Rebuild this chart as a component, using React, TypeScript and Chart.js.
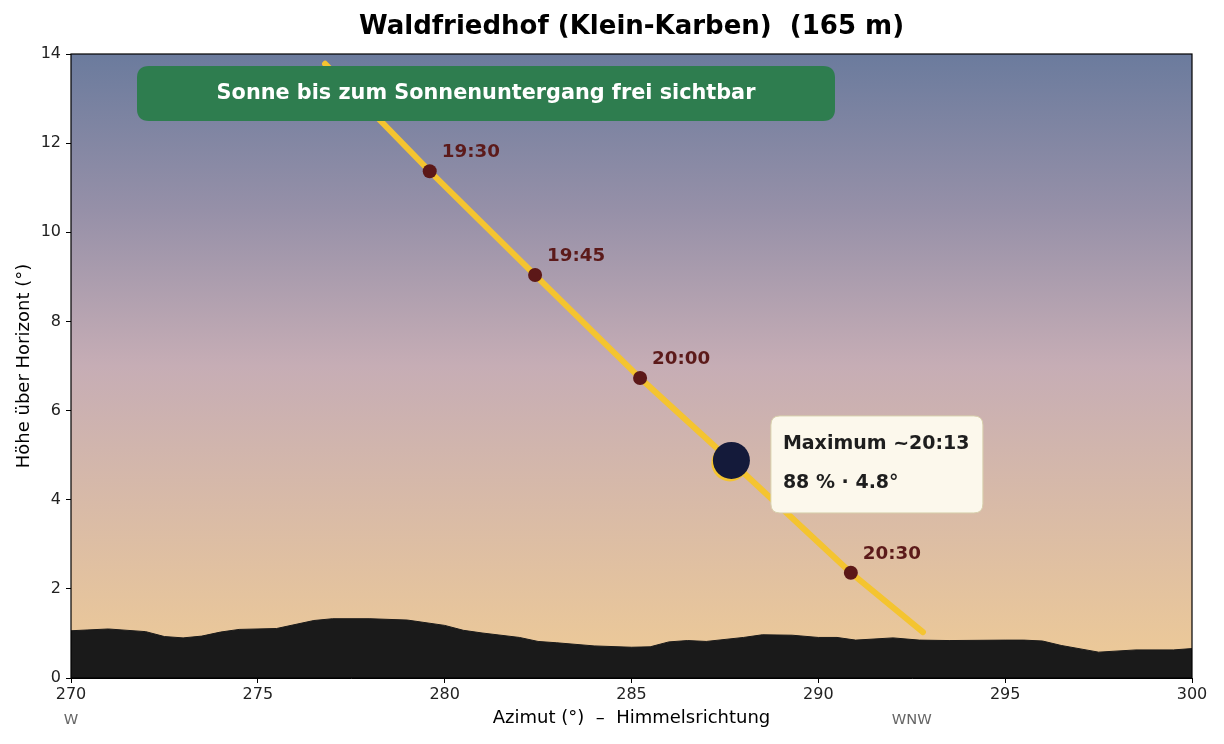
import React, { useEffect, useRef } from "react";
import { Chart, registerables } from "chart.js";

Chart.register(...registerables);

const TITLE = "Waldfriedhof (Klein-Karben)  (165 m)";
const BANNER = "Sonne bis zum Sonnenuntergang frei sichtbar";
const X_TITLE = "Azimut (°)  –  Himmelsrichtung";
const Y_TITLE = "Höhe über Horizont (°)";

const horizonAz = [270, 271, 272, 272.5, 273, 273.5, 274, 274.5, 275.5, 276.5, 277, 278, 279, 280, 280.5, 281, 282, 282.5, 283, 284, 285, 285.5, 286, 286.5, 287, 288, 288.5, 289.3, 290, 290.5, 291, 292, 292.7, 293.5, 295, 295.5, 296, 296.5, 297.5, 298.5, 299.5, 300];
const horizonAlt = [1.06, 1.1, 1.04, 0.93, 0.9, 0.94, 1.03, 1.09, 1.11, 1.29, 1.33, 1.33, 1.3, 1.18, 1.07, 1.01, 0.91, 0.82, 0.79, 0.72, 0.69, 0.7, 0.81, 0.84, 0.82, 0.91, 0.97, 0.96, 0.91, 0.91, 0.85, 0.9, 0.85, 0.84, 0.85, 0.85, 0.83, 0.73, 0.58, 0.63, 0.63, 0.66];

const pathAz = [276.8, 279.6, 282.42, 285.23, 287.66, 290.87, 292.8];
const pathAlt = [13.78, 11.37, 9.04, 6.73, 4.87, 2.36, 1.03];

const timeLabels = ["19:30", "19:45", "20:00", "20:30"];
const timeAz = [279.6, 282.42, 285.23, 290.87];
const timeAlt = [11.37, 9.04, 6.73, 2.36];

const maxAz = 287.66;
const maxAlt = 4.87;
const maxLine1 = "Maximum ~20:13";
const maxLine2 = "88 % · 4.8°";

const dirLabels = ["W", "WNW"];
const dirAz = [270, 292.5];

const xTicks = [270, 275, 280, 285, 290, 295, 300];
const yTicks = [0, 2, 4, 6, 8, 10, 12, 14];

const FONT = "'DejaVu Sans', sans-serif";

function roundRect(ctx: CanvasRenderingContext2D, x: number, y: number, w: number, h: number, r: number) {
  ctx.beginPath();
  ctx.moveTo(x + r, y);
  ctx.lineTo(x + w - r, y);
  ctx.quadraticCurveTo(x + w, y, x + w, y + r);
  ctx.lineTo(x + w, y + h - r);
  ctx.quadraticCurveTo(x + w, y + h, x + w - r, y + h);
  ctx.lineTo(x + r, y + h);
  ctx.quadraticCurveTo(x, y + h, x, y + h - r);
  ctx.lineTo(x, y + r);
  ctx.quadraticCurveTo(x, y, x + r, y);
  ctx.closePath();
}

const decorPlugin = {
  id: "decor",
  beforeDatasetsDraw(chart: any) {
    const { ctx, chartArea: a } = chart;
    ctx.save();
    const g = ctx.createLinearGradient(0, a.top, 0, a.bottom);
    g.addColorStop(0, "#6b7b9d");
    g.addColorStop(0.25, "#9690a8");
    g.addColorStop(0.5, "#c6adb5");
    g.addColorStop(1, "#efcb96");
    ctx.fillStyle = g;
    ctx.fillRect(a.left, a.top, a.right - a.left, a.bottom - a.top);
    ctx.restore();
  },
  afterDatasetsDraw(chart: any) {
    const { ctx, chartArea: a, scales } = chart;
    const xs = scales.x;
    const ys = scales.y;
    ctx.save();
    // time labels
    ctx.font = `bold 18.3px ${FONT}`;
    ctx.fillStyle = "#5c1a1a";
    ctx.textAlign = "left";
    ctx.textBaseline = "alphabetic";
    timeLabels.forEach((t, i) => {
      const px = xs.getPixelForValue(timeAz[i]);
      const py = ys.getPixelForValue(timeAlt[i]);
      ctx.fillText(t, px + 12, py - 14);
    });
    // eclipse marker
    const mx = xs.getPixelForValue(maxAz);
    const my = ys.getPixelForValue(maxAlt);
    ctx.beginPath();
    ctx.arc(mx - 1, my + 2, 18.5, 0, Math.PI * 2);
    ctx.fillStyle = "#f4c430";
    ctx.fill();
    ctx.beginPath();
    ctx.arc(mx + 0.5, my - 0.5, 18.5, 0, Math.PI * 2);
    ctx.fillStyle = "#141a3a";
    ctx.fill();
    // annotation box
    const bx = mx + 40, by = my - 45, bw = 212, bh = 97;
    roundRect(ctx, bx, by, bw, bh, 9);
    ctx.fillStyle = "#fcf8ec";
    ctx.fill();
    ctx.strokeStyle = "#d8d0ac";
    ctx.lineWidth = 1;
    ctx.stroke();
    ctx.fillStyle = "#1e1e1e";
    ctx.font = `bold 19px ${FONT}`;
    ctx.textBaseline = "middle";
    ctx.fillText(maxLine1, bx + 12, by + 28);
    ctx.fillText(maxLine2, bx + 12, by + 67);
    // banner
    const gx = a.left + 66, gy = a.top + 12, gw = 698, gh = 55;
    roundRect(ctx, gx, gy, gw, gh, 12);
    ctx.fillStyle = "#2e7d4f";
    ctx.fill();
    ctx.fillStyle = "#ffffff";
    ctx.font = `bold 20.8px ${FONT}`;
    ctx.textAlign = "center";
    ctx.textBaseline = "middle";
    ctx.fillText(BANNER, gx + gw / 2, gy + gh / 2);
    ctx.restore();
  },
  afterDraw(chart: any) {
    const { ctx, chartArea: a, scales } = chart;
    ctx.save();
    ctx.strokeStyle = "#000";
    ctx.lineWidth = 1.2;
    ctx.strokeRect(a.left, a.top, a.right - a.left, a.bottom - a.top);
    // title
    ctx.fillStyle = "#000";
    ctx.font = `bold 26px ${FONT}`;
    ctx.textAlign = "center";
    ctx.textBaseline = "middle";
    ctx.fillText(TITLE, (a.left + a.right) / 2, 27);
    // axis titles
    ctx.font = `18px ${FONT}`;
    ctx.fillText(X_TITLE, (a.left + a.right) / 2, 718);
    ctx.save();
    ctx.translate(24, (a.top + a.bottom) / 2);
    ctx.rotate(-Math.PI / 2);
    ctx.fillText(Y_TITLE, 0, 0);
    ctx.restore();
    // directions
    ctx.fillStyle = "#666";
    ctx.font = `14.7px ${FONT}`;
    dirLabels.forEach((d, i) => {
      ctx.fillText(d, scales.x.getPixelForValue(dirAz[i]), 720);
    });
    ctx.restore();
  },
};

export default function App() {
  const ref = useRef<HTMLCanvasElement | null>(null);
  useEffect(() => {
    document.body.style.margin = "0";
    const canvas = ref.current;
    if (!canvas) return;
    const chart = new Chart(canvas, {
      type: "scatter",
      data: {
        datasets: [
          {
            type: "scatter",
            data: timeAz.map((x, i) => ({ x, y: timeAlt[i] })),
            pointRadius: 7,
            pointHoverRadius: 7,
            backgroundColor: "#5c1818",
            borderWidth: 0,
            order: 1,
          },
          {
            type: "line",
            data: pathAz.map((x, i) => ({ x, y: pathAlt[i] })),
            borderColor: "#f4c430",
            borderWidth: 6,
            borderCapStyle: "round",
            pointRadius: 0,
            tension: 0,
            fill: false,
            order: 2,
          } as any,
          {
            type: "line",
            data: horizonAz.map((x, i) => ({ x, y: horizonAlt[i] })),
            borderColor: "#1a1a1a",
            borderWidth: 1,
            backgroundColor: "#1a1a1a",
            fill: "origin",
            pointRadius: 0,
            tension: 0,
            order: 3,
          } as any,
        ],
      },
      options: {
        animation: false,
        responsive: false,
        devicePixelRatio: 1,
        layout: { padding: { left: 0, top: 54, right: 32, bottom: 0 } },
        plugins: {
          legend: { display: false },
          tooltip: { enabled: false },
          title: { display: false },
        },
        scales: {
          x: {
            type: "linear",
            min: 270,
            max: 300,
            afterBuildTicks: (s: any) => {
              s.ticks = xTicks.map((v) => ({ value: v }));
            },
            afterFit: (s: any) => {
              s.height = 66;
            },
            ticks: { font: { family: FONT, size: 16 }, color: "#222", padding: 2, maxRotation: 0 },
            grid: { drawOnChartArea: false, drawTicks: true, tickLength: 5, color: "#000" },
            border: { display: true, color: "#000" },
            title: { display: false },
          },
          y: {
            type: "linear",
            min: 0,
            max: 14,
            afterBuildTicks: (s: any) => {
              s.ticks = yTicks.map((v) => ({ value: v }));
            },
            afterFit: (s: any) => {
              s.width = 71;
            },
            ticks: { font: { family: FONT, size: 16 }, color: "#222", padding: 5 },
            grid: { drawOnChartArea: false, drawTicks: true, tickLength: 5, color: "#000" },
            border: { display: true, color: "#000" },
            title: { display: false },
          },
        },
      } as any,
      plugins: [decorPlugin],
    });
    return () => chart.destroy();
  }, []);
  return (
    <div style={{ width: 1224, height: 744 }}>
      <canvas ref={ref} width={1224} height={744} style={{ width: 1224, height: 744, display: "block" }} />
    </div>
  );
}
